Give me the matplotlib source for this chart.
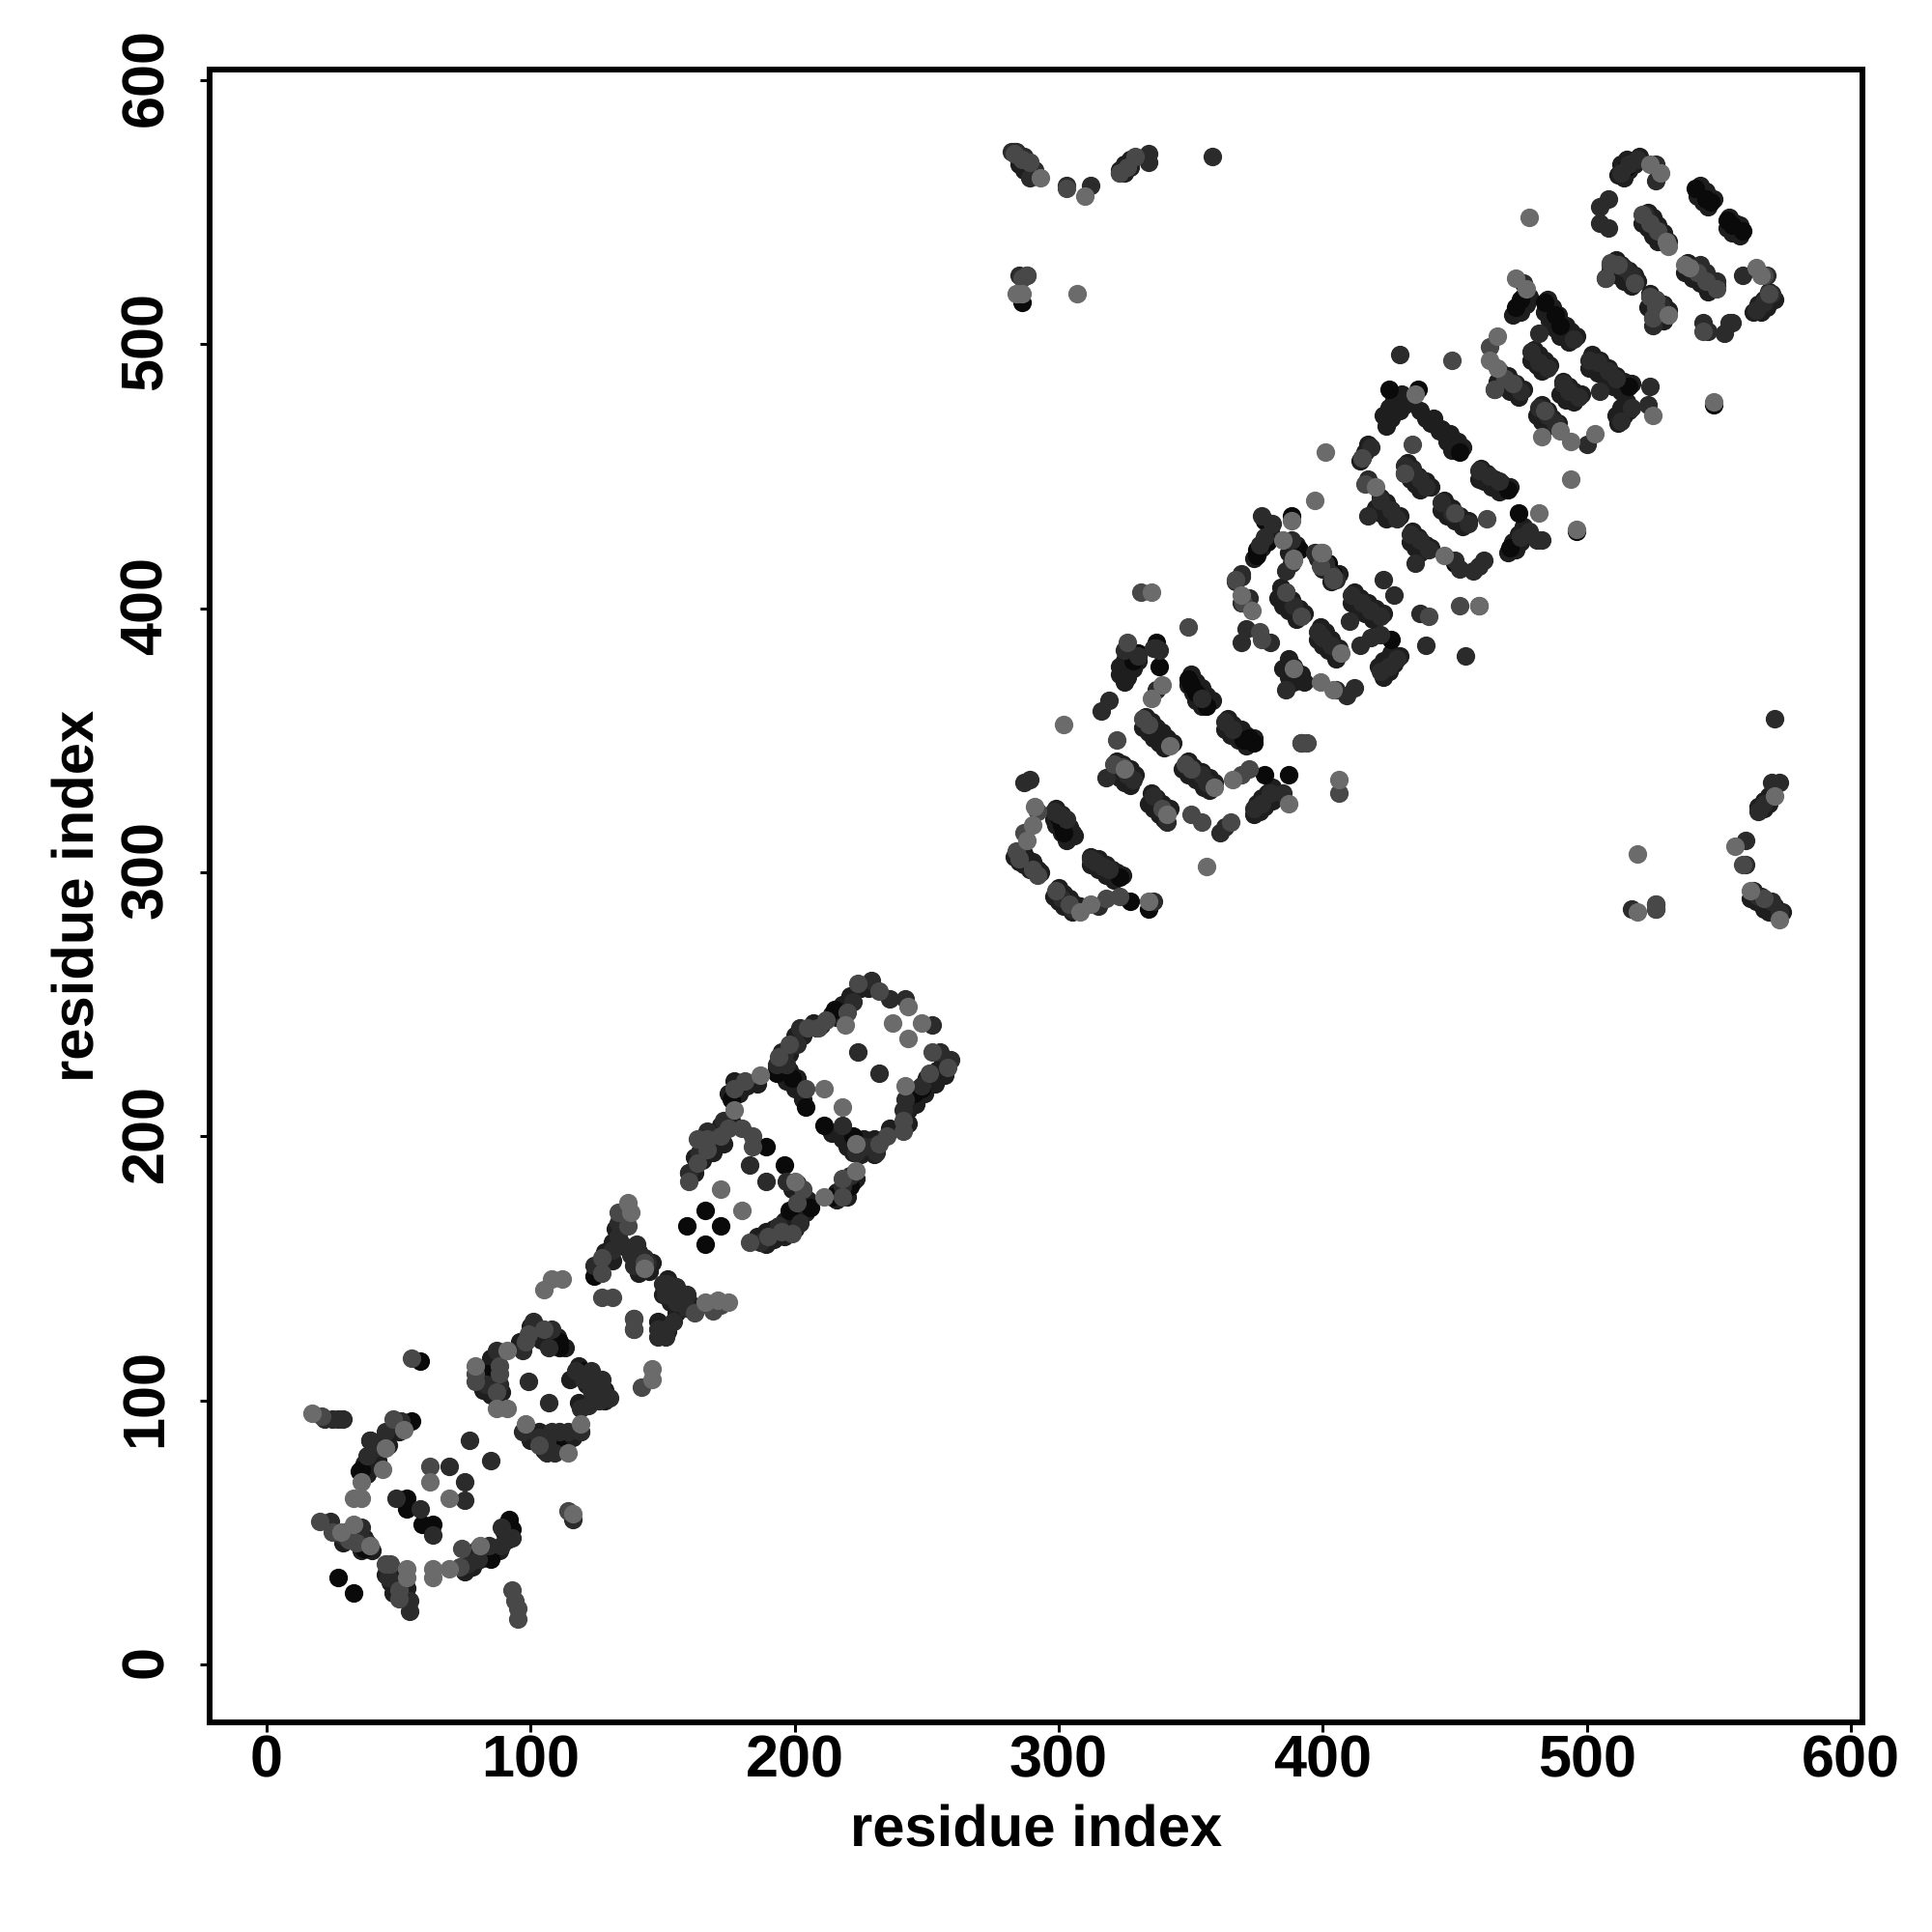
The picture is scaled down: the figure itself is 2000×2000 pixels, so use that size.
import matplotlib
matplotlib.use('Agg')
import matplotlib.pyplot as plt
from matplotlib.transforms import ScaledTranslation

# contacts, split by how dark the dot is
black_i = [55, 36, 35, 53, 53, 59, 63, 37, 27, 33, 85, 92, 93, 58, 111, 111, 120, 119, 110, 83, 39, 41,
           189, 196, 166, 159, 172, 166, 198, 206, 221, 204, 199, 215, 245, 222, 211, 176, 124, 214, 193, 248,
           323, 327, 374, 378, 387, 356, 350, 352, 349, 301, 302, 300, 426, 337, 338, 328, 330, 370, 372, 372,
           470, 474, 516, 488, 490, 484, 425, 436, 452, 475, 473, 496, 548, 471, 450, 392, 386,
           547, 545, 559, 553, 555, 541, 286, 334, 567, 515,
           388, 378, 375, 391, 404, 402, 375, 379]
black_j = [92, 74, 73, 63, 59, 53, 53, 44, 33, 27, 40, 55, 51, 115, 122, 120, 111, 88, 83, 110, 85, 82,
           196, 189, 172, 166, 166, 159, 172, 173, 181, 211, 222, 248, 216, 200, 204, 214, 147, 177, 224, 218,
           298, 289, 349, 337, 337, 363, 371, 368, 373, 318, 315, 321, 388, 387, 378, 380, 383, 350, 351, 350,
           445, 436, 484, 511, 507, 516, 483, 483, 459, 517, 514, 429, 477, 423, 417, 349, 406,
           554, 555, 543, 547, 545, 559, 516, 286, 326, 567,
           435, 433, 422, 422, 413, 417, 420, 425]

dark_i = [22, 25, 27, 29, 51, 45, 39, 41, 38, 49, 69, 75, 75, 77, 85, 24, 28, 36, 38, 46, 54, 54, 76, 80,
          84, 89, 89, 93, 63, 58, 116, 83, 88, 87, 97, 101, 108, 107, 99, 107, 117, 123, 127, 120, 123, 127, 130, 126, 122,
          119, 108, 111, 114, 97, 103, 106, 109, 106, 119, 139, 139,
          133, 133, 134, 140, 143, 138, 131, 124, 139, 144, 150, 152, 155, 159, 151, 155, 159, 154, 151, 148, 148, 151, 160, 164, 167, 173,
          183, 189, 187, 194, 202, 197, 221, 218, 193, 197, 196, 201, 202, 208, 222, 229, 236, 242, 224, 232, 252, 255, 259, 248, 242,
          241, 229, 226, 223, 231, 218,
          289, 287, 298, 300, 303, 312, 314, 317, 319, 301, 305, 315, 336, 316, 319, 325, 338, 336, 337, 354, 363, 366, 318, 326, 328,
          354, 356, 361, 363, 336, 341, 374, 377, 380, 385, 337, 330, 369, 372, 371, 369, 380, 389, 398, 400, 403, 411, 415, 418, 422, 414, 418, 422, 422, 425, 428,
          386, 405, 409, 412, 410, 465, 469, 472, 475, 429, 476, 495, 482, 479, 482, 485, 491, 493, 497, 482, 485, 488, 500, 501, 504, 508, 511, 505, 524, 523, 517, 513,
          415, 418, 417, 422, 417, 426, 428, 431, 434, 437, 439, 459, 463, 467, 445, 449, 455, 475, 478, 481, 483, 433, 437, 440, 435, 450, 452, 457, 461, 459, 454, 423, 427, 437, 439,
          282, 284, 287, 289, 291, 289, 303, 312, 323, 326, 334, 334, 358, 285, 288,
          513, 516, 519, 526, 526, 508, 505, 505, 508, 522, 524, 527, 509, 512, 514, 518, 517, 507, 543, 545, 549, 524, 526, 528, 525, 525, 544, 546, 552, 554, 555, 559, 568, 570, 567, 564,
          571, 570, 573, 567, 565, 560, 560, 526, 526, 517, 565, 570, 573,
          377, 381, 378, 376, 388, 388, 386, 397, 401, 403, 405, 369, 367, 369]
dark_j = [93, 93, 93, 93, 92, 88, 85, 82, 79, 63, 75, 69, 62, 85, 77, 54, 49, 52, 46, 33, 24, 20, 38, 40,
          45, 45, 52, 48, 49, 59, 55, 106, 106, 119, 119, 130, 127, 120, 107, 99, 111, 111, 108, 108, 104, 104, 101, 100, 98,
          97, 88, 88, 88, 88, 86, 84, 80, 80, 88, 131, 127,
          167, 162, 160, 159, 154, 155, 157, 151, 151, 152, 144, 144, 143, 140, 140, 137, 135, 130, 127, 127, 124, 124, 186, 194, 202, 206,
          189, 183, 160, 166, 167, 183, 185, 181, 227, 227, 231, 235, 241, 241, 251, 259, 252, 252, 232, 224, 242, 232, 229, 219, 214,
          210, 196, 196, 194, 194, 204,
          335, 334, 323, 322, 320, 305, 304, 302, 301, 290, 286, 287, 289, 361, 365, 384, 384, 385, 369, 366, 357, 354, 336, 337, 335,
          337, 334, 315, 317, 329, 319, 324, 326, 330, 330, 385, 382, 413, 404, 392, 387, 387, 401, 391, 389, 386, 405, 402, 399, 397, 386, 389, 390, 376, 378, 381,
          369, 369, 367, 370, 395, 483, 487, 485, 482, 496, 523, 502, 504, 497, 493, 491, 485, 482, 480, 476, 473, 470, 462, 494, 493, 490, 487, 482, 484, 477, 476, 471,
          457, 461, 449, 441, 435, 437, 434, 454, 452, 449, 446, 452, 450, 448, 440, 436, 432, 427, 429, 426, 426, 428, 426, 422, 417, 418, 415, 414, 418, 416, 382, 411, 405, 398, 386,
          573, 573, 571, 569, 566, 563, 560, 560, 565, 567, 572, 569, 571, 526, 526,
          565, 568, 570, 568, 562, 555, 552, 546, 544, 549, 546, 543, 530, 530, 529, 524, 526, 525, 530, 527, 524, 518, 516, 515, 507, 510, 508, 505, 504, 508, 508, 526, 526, 519, 516, 513,
          358, 334, 334, 326, 323, 312, 303, 288, 286, 286, 291, 289, 285,
          435, 432, 427, 424, 426, 417, 414, 421, 417, 413, 411, 412, 410, 402]

mid_i = [21, 48, 62, 20, 25, 31, 34, 45, 47, 50, 50, 74, 73, 93, 94, 95, 95, 55, 114, 79, 79, 88, 88, 87, 98, 105, 99, 103, 142, 127, 131, 139, 139,
         133, 137, 127, 127, 143, 172, 169, 162, 160, 163, 167, 163, 167, 175, 180, 184, 183, 190, 199, 195, 218, 203, 201, 218, 204, 194, 198, 205, 209, 212, 220, 224, 232, 252, 258, 251, 241, 241, 235, 232, 181, 177, 172, 184,
         284, 285, 290, 292, 287, 299, 304, 318, 323, 292, 322, 332, 334, 321, 324, 348, 350, 339, 350, 354, 365, 369, 372, 392, 394, 406, 331, 349, 326, 377, 376, 370, 367, 392, 399, 386, 404,
         449, 434, 463, 465, 469, 472, 484, 462, 415, 416, 431, 450, 440, 452, 459, 404,
         283, 286, 289, 303, 323, 326, 329, 285, 288, 286,
         521, 524, 527, 509, 512, 518, 507, 526, 525, 542, 545, 549, 524, 526, 544, 569, 567,
         567, 526, 526, 559]
mid_j = [94, 93, 75, 54, 50, 47, 46, 38, 38, 28, 25, 44, 37, 28, 24, 21, 17, 116, 58, 110, 107, 113, 110, 103, 122, 127, 125, 83, 105, 139, 139, 131, 127,
         171, 166, 154, 148, 152, 136, 134, 133, 183, 190, 195, 199, 199, 203, 203, 200, 160, 162, 163, 164, 177, 180, 175, 184, 218, 230, 235, 241, 241, 244, 247, 258, 255, 232, 226, 224, 206, 202, 200, 197, 221, 218, 200, 196,
         308, 305, 301, 299, 315, 293, 288, 290, 291, 323, 350, 358, 356, 341, 340, 341, 339, 324, 322, 319, 319, 337, 339, 349, 349, 330, 406, 393, 387, 388, 391, 402, 411, 397, 416, 406, 411,
         494, 462, 499, 483, 487, 485, 475, 434, 457, 447, 451, 436, 397, 401, 401, 412,
         572, 570, 569, 559, 565, 567, 571, 519, 526, 525,
         549, 546, 543, 531, 530, 523, 525, 517, 510, 527, 524, 521, 518, 514, 505, 519, 526,
         290, 286, 288, 303]

light_i = [17, 52, 45, 44, 36, 33, 36, 62, 69, 28, 33, 39, 53, 53, 63, 63, 69, 81, 116, 79, 91, 87, 91, 98, 119, 114, 146, 146, 105, 108, 112,
           137, 138, 143, 166, 171, 175, 172, 180, 200, 223, 211, 211, 218, 219, 243, 237, 243, 248, 242, 223, 187, 177,
           302, 288, 290, 291, 342, 325, 359, 341, 366, 387, 406, 356, 335, 335, 339, 369, 373, 407, 389, 389, 399, 404, 308, 312, 334,
           466, 463, 466, 477, 473, 483, 490, 494, 503, 525, 548, 494, 496, 401, 397, 420, 435, 482, 446, 459, 400,
           293, 310, 307, 284, 286,
           478, 524, 528, 530, 531, 537, 539, 531, 564, 566,
           556, 519, 519, 562, 571, 573,
           388, 385, 389, 399]
light_j = [95, 89, 82, 74, 69, 63, 63, 69, 63, 50, 53, 45, 36, 33, 36, 33, 36, 45, 57, 113, 119, 97, 97, 91, 91, 80, 112, 108, 142, 146, 146,
           175, 171, 150, 137, 138, 137, 180, 172, 183, 187, 177, 218, 211, 242, 249, 243, 237, 243, 219, 197, 223, 210,
           356, 312, 318, 325, 348, 339, 332, 322, 335, 326, 335, 302, 406, 366, 371, 405, 399, 383, 418, 377, 372, 369, 285, 288, 289,
           503, 494, 491, 521, 525, 465, 467, 463, 466, 473, 478, 449, 430, 459, 441, 446, 481, 436, 420, 401, 421,
           563, 556, 519, 519, 519,
           548, 568, 565, 539, 537, 530, 529, 511, 529, 526,
           310, 307, 285, 293, 329, 282,
           433, 426, 419, 421]

# darker contacts lying under the stripes, they make them as thick as in the picture
under_x = [285, 287, 288, 290, 292, 293, 283, 285, 287, 289, 299, 301, 302, 304, 305, 306, 298, 299, 301, 303,
           312, 315, 318, 320, 322, 324, 312, 315, 318, 321, 300, 302, 304, 306, 308, 298, 300, 302, 305,
           333, 335, 337, 339, 341, 343, 332, 334, 336, 338, 340, 350, 352, 354, 356, 358, 349, 351, 352, 354,
           364, 366, 369, 371, 374, 363, 365, 368, 371, 322, 324, 327, 329, 321, 323, 325, 327,
           349, 351, 354, 357, 359, 347, 349, 352, 355, 357, 335, 337, 339, 342, 334, 336, 338, 340,
           375, 377, 379, 381, 374, 376, 378, 381, 384, 386, 388, 391, 393, 383, 385, 387, 390,
           399, 401, 403, 406, 398, 400, 402, 405, 412, 414, 417, 420, 423, 411, 413, 416, 419,
           387, 389, 392, 393, 385, 387, 389, 323, 325, 326, 328, 330, 323, 325, 327, 423, 425, 427, 429, 421, 423, 426,
           432, 434, 436, 439, 441, 431, 433, 435, 437, 460, 462, 465, 468, 471, 459, 461, 464, 467,
           446, 449, 452, 455, 445, 447, 450, 453, 434, 436, 439, 441, 433, 435, 437, 416, 414, 417,
           437, 439, 441, 445, 448, 451, 453, 442, 444, 447, 449, 472, 474, 476, 470, 473, 475, 478,
           423, 425, 427, 430, 424, 426, 429, 431, 422, 424, 426, 429, 420, 422, 424,
           467, 470, 473, 476, 466, 468, 471, 474, 485, 487, 489, 492, 494, 496, 484, 486, 488, 490, 493,
           480, 482, 484, 486, 479, 481, 483, 491, 493, 495, 498, 490, 492, 495, 483, 485, 487, 489, 481, 483, 485,
           502, 505, 508, 511, 514, 517, 501, 504, 507, 510, 513, 512, 514, 516, 511, 513, 515,
           512, 514, 516, 518, 520, 513, 515, 543, 545, 548, 542, 544, 546, 554, 556, 558, 553, 555, 558,
           523, 525, 527, 529, 531, 521, 523, 525, 527, 511, 513, 516, 518, 519, 509, 512, 514, 517,
           538, 541, 544, 547, 549, 537, 540, 543, 546, 524, 526, 529, 531, 523, 525, 527, 529,
           563, 565, 567, 569, 566, 568, 571, 472, 474, 476, 475, 477, 478,
           283, 285, 287, 289, 291, 285, 287, 289, 323, 325, 327, 325, 327,
           563, 566, 568, 571, 574, 562, 564, 567, 569, 565, 567, 569, 567, 569,
           195, 200, 207, 214, 218, 221, 225, 228, 193, 198, 203, 210, 216, 220,
           256, 254, 250, 247, 244, 243, 240, 243, 246, 249, 253, 257,
           236, 230, 226, 222, 218, 214, 230, 225, 220, 160, 162, 165, 169, 172, 176, 162, 165, 169, 173,
           186, 189, 192, 196, 199, 189, 192, 196, 200, 179, 177, 182, 186, 175, 199, 203, 205, 201, 204,
           216, 219, 222, 220, 223, 216, 220, 196, 198, 201, 203, 195, 197, 200, 203,
           152, 154, 157, 160, 150, 153, 156, 148, 152, 155, 135, 132, 131, 136, 141, 146, 145, 141, 126, 128, 131,
           81, 85, 82, 85, 89, 96, 102, 106, 110, 113, 104, 100, 118, 122, 125, 128, 121, 124, 128, 118, 115,
           100, 103, 106, 110, 112, 108, 116, 105, 37, 40, 43, 47, 52, 38, 42, 46, 50,
           30, 34, 37, 36, 40, 29, 46, 48, 50, 52, 45, 47, 48, 53, 75, 78, 81, 84, 88, 91, 77, 80, 90,
           380, 377, 374, 400, 398, 403, 406, 390, 387]
under_y = [308, 307, 305, 304, 301, 300, 306, 304, 303, 301, 324, 322, 319, 317, 315, 314, 320, 318, 315, 312,
           306, 305, 303, 301, 300, 299, 303, 301, 299, 297, 294, 292, 290, 288, 287, 291, 289, 287, 285,
           359, 357, 355, 353, 351, 349, 355, 353, 351, 349, 347, 375, 372, 370, 367, 365, 371, 368, 365, 363,
           358, 356, 354, 352, 351, 354, 352, 350, 348, 342, 341, 339, 337, 338, 336, 334, 333,
           342, 340, 338, 336, 334, 339, 337, 335, 332, 331, 330, 328, 326, 324, 326, 324, 322, 320,
           326, 328, 330, 332, 322, 323, 325, 327, 408, 406, 403, 400, 398, 404, 401, 399, 396,
           393, 391, 388, 385, 388, 386, 384, 381, 406, 404, 402, 400, 398, 402, 400, 398, 396,
           381, 378, 375, 372, 377, 374, 372, 375, 372, 374, 377, 380, 378, 380, 382, 374, 376, 379, 382, 378, 380, 383,
           455, 453, 450, 448, 446, 451, 449, 447, 445, 453, 451, 449, 447, 446, 449, 448, 446, 444,
           441, 438, 435, 433, 437, 435, 433, 431, 429, 427, 424, 423, 425, 423, 421, 459, 456, 462,
           475, 472, 470, 468, 466, 463, 461, 472, 467, 463, 460, 425, 428, 431, 421, 422, 425, 428,
           473, 476, 479, 481, 469, 472, 475, 477, 442, 440, 437, 435, 438, 436, 434,
           490, 488, 485, 483, 486, 484, 482, 480, 517, 514, 511, 507, 505, 503, 512, 509, 506, 503, 501,
           498, 496, 494, 492, 494, 492, 490, 486, 484, 482, 481, 481, 479, 478, 477, 475, 472, 470, 473, 471, 469,
           496, 494, 491, 488, 486, 485, 491, 489, 487, 484, 482, 470, 473, 475, 473, 476, 478,
           564, 563, 566, 568, 571, 568, 570, 560, 558, 555, 556, 554, 552, 548, 546, 545, 544, 542, 541,
           550, 548, 545, 542, 539, 546, 544, 541, 539, 532, 530, 528, 526, 524, 528, 526, 524, 522,
           531, 529, 527, 524, 522, 527, 525, 523, 520, 519, 517, 515, 513, 514, 513, 511, 509,
           512, 515, 517, 520, 512, 514, 517, 511, 514, 518, 512, 515, 518,
           573, 571, 569, 567, 565, 568, 566, 564, 566, 568, 570, 565, 567,
           293, 291, 289, 287, 285, 290, 289, 286, 285, 325, 327, 329, 324, 326,
           232, 238, 243, 246, 250, 253, 256, 256, 226, 231, 238, 242, 245, 248,
           228, 225, 222, 218, 214, 210, 203, 205, 212, 216, 220, 223,
           203, 199, 199, 194, 199, 201, 193, 193, 196, 186, 192, 197, 199, 204, 206, 186, 191, 194, 197,
           162, 164, 165, 168, 170, 159, 161, 162, 165, 216, 221, 219, 220, 216, 180, 177, 176, 182, 171,
           179, 180, 183, 184, 184, 176, 177, 228, 225, 222, 218, 224, 221, 218, 214,
           146, 142, 140, 137, 140, 137, 136, 130, 126, 133, 168, 165, 160, 158, 156, 152, 149, 148, 151, 156, 153,
           112, 116, 104, 102, 103, 122, 128, 124, 124, 120, 123, 128, 113, 110, 107, 104, 106, 101, 100, 99, 108,
           85, 88, 87, 86, 82, 84, 86, 81, 76, 80, 84, 88, 91, 72, 77, 83, 88,
           50, 49, 48, 43, 43, 46, 36, 34, 31, 27, 34, 31, 27, 29, 35, 37, 40, 43, 43, 47, 41, 44, 50,
           429, 423, 419, 415, 419, 410, 413, 424, 421]

x_ticks = [0, 100, 200, 300, 400, 500, 600]
y_ticks = [0, 100, 200, 300, 400, 500, 600]

plt.rcParams['font.family'] = ['Liberation Sans', 'DejaVu Sans']
plt.rcParams['font.weight'] = 'bold'
plt.rcParams['text.hinting'] = 'none'

fig = plt.figure(figsize=(10, 10), dpi=200)
ax = fig.add_axes([217 / 2000, 217 / 2000, 1711 / 2000, 1711 / 2000])

dot = 48
ax.scatter(under_x, under_y, s=dot, color='#1e1e1e', linewidths=0, zorder=2)
ax.scatter(black_i, black_j, s=dot, color='#0a0a0a', linewidths=0, zorder=3)
ax.scatter(dark_i, dark_j, s=dot, color='#2b2b2b', linewidths=0, zorder=4)
ax.scatter(mid_i, mid_j, s=dot, color='#484848', linewidths=0, zorder=5)
ax.scatter(light_i, light_j, s=dot, color='#6b6b6b', linewidths=0, zorder=6)

ax.set_xlim(-21.6, 604.4)
ax.set_ylim(-22, 604)
ax.set_xticks(x_ticks)
ax.set_yticks(y_ticks)
ax.tick_params(axis='both', length=3.6, width=1.1, labelsize=22, color='black')
ax.tick_params(axis='x', pad=0.8)
ax.tick_params(axis='y', pad=9.5, labelrotation=90)
for lab in ax.get_yticklabels():
    lab.set_va('center')
    lab.set_transform(lab.get_transform() + ScaledTranslation(0, 3 / 200, fig.dpi_scale_trans))
for sp in ax.spines.values():
    sp.set_linewidth(2.16)

ax.set_xlabel('residue index', fontsize=21.5, fontweight='bold')
ax.set_ylabel('residue index', fontsize=21.5, fontweight='bold')
ax.xaxis.set_label_coords(0.5, (1783 - 1896) / 1711)
ax.yaxis.set_label_coords((82 - 217) / 1711, 0.5)
ax.xaxis.label.set_va('center')
ax.yaxis.label.set_va('center')

fig.savefig('out.png', dpi=200)
